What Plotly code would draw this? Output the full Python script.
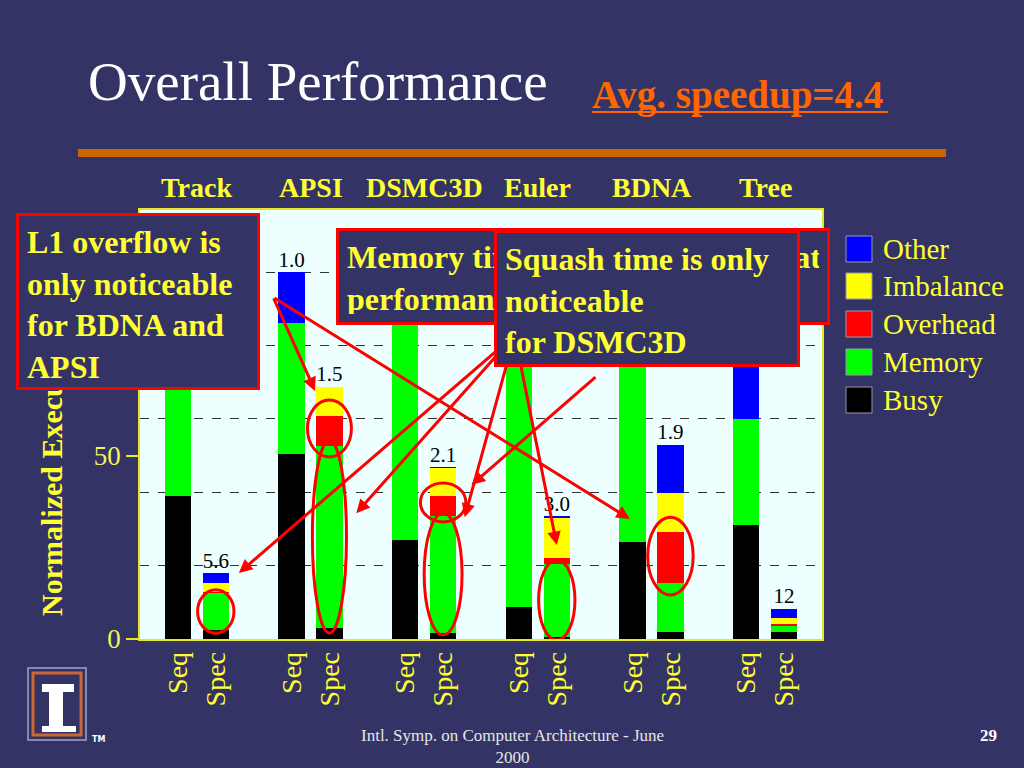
import plotly.graph_objects as go

# ---------------- data ----------------
benchmarks = ["Track", "APSI", "DSMC3D", "Euler", "BDNA", "Tree"]
runs = ["Seq", "Spec"]
components = ["Busy", "Memory", "Overhead", "Imbalance", "Other"]
comp_colors = ["#000000", "#00FF00", "#FF0000", "#FFFF00", "#0000FF"]

# order of bars: Track Seq, Track Spec, APSI Seq, APSI Spec, ...
busy      = [39.0, 2.4, 50.5, 3.0, 27.0, 1.6, 8.7, 0.5, 26.5, 1.9, 31.0, 1.9]
memory    = [61.0, 10.3, 35.5, 49.7, 73.0, 32.0, 91.3, 20.0, 73.5, 13.3, 29.0, 1.9]
overhead  = [0.0, 0.2, 0.0, 8.2, 0.0, 5.4, 0.0, 1.6, 0.0, 13.9, 0.0, 0.2]
imbalance = [0.0, 2.4, 0.0, 7.9, 0.0, 7.6, 0.0, 11.0, 0.0, 10.6, 0.0, 1.6]
other     = [0.0, 2.6, 14.0, 0.0, 0.0, 0.1, 0.0, 0.3, 0.0, 13.3, 40.0, 2.7]
speedup_labels = ["1.0", "5.6", "1.0", "1.5", "1.0", "2.1",
                  "1.0", "3.0", "1.0", "1.9", "1.0", "12"]
avg_speedup = "4.4"

series = [busy, memory, overhead, imbalance, other]

# ---------------- geometry helpers ----------------
W, H = 1024, 768
L, R, T, B = 140, 822, 210, 639          # plot area in pixels
def px(x):  # pixel x -> paper
    return (x - L) / (R - L)
def py(y):  # pixel y -> paper
    return (B - y) / (B - T)

xpos = [3 * i + j for i in range(len(benchmarks)) for j in range(len(runs))]
xlabels = [r for _ in benchmarks for r in runs]
totals = [sum(s[k] for s in series) for k in range(len(xpos))]

SERIF = "Liberation Serif"
YEL = "#FFFF33"
BG = "#333366"
RED = "#FF0000"

fig = go.Figure()
for name, vals, col in zip(components, series, comp_colors):
    fig.add_trace(go.Bar(x=xpos, y=vals, name=name, width=0.69,
                         marker=dict(color=col, line=dict(width=0)),
                         showlegend=False))

fig.add_trace(go.Scatter(x=xpos, y=totals, mode="text", text=speedup_labels,
                         textposition="top center",
                         textfont=dict(family=SERIF, size=21, color="#000000"),
                         showlegend=False, hoverinfo="skip"))

shapes = []
annotations = []

# ---------- ellipses (bar index, y low, y high, half width) ----------
ellipses = [(1, 1.6, 13.4, 0.48), (3, 49.6, 65.1, 0.58), (3, 1.6, 54.2, 0.45),
            (5, 31.9, 42.5, 0.6), (5, 1.1, 34.3, 0.5), (7, -0.3, 21.5, 0.48),
            (9, 12.0, 33.2, 0.6)]
for bi, y0, y1, hw in ellipses:
    xc = xpos[bi]
    shapes.append(dict(type="circle", xref="x", yref="y", x0=xc - hw, x1=xc + hw,
                       y0=y0, y1=y1, line=dict(color=RED, width=3),
                       fillcolor="rgba(0,0,0,0)", layer="above"))

# ---------- title area ----------
shapes.append(dict(type="rect", xref="paper", yref="paper", x0=px(78), x1=px(946),
                   y0=py(157), y1=py(149), fillcolor="#CC6600", line=dict(width=0)))
annotations.append(dict(text="Overall Performance", xref="paper", yref="paper",
                        x=px(86), y=py(82), xanchor="left", yanchor="middle",
                        showarrow=False, font=dict(family=SERIF, size=55, color="white")))
annotations.append(dict(text="<b>Avg. speedup=" + avg_speedup + "</b>", xref="paper", yref="paper",
                        x=px(590), y=py(95), xanchor="left", yanchor="middle",
                        showarrow=False, font=dict(family=SERIF, size=39, color="#FF6600")))
shapes.append(dict(type="line", xref="paper", yref="paper", x0=px(592), x1=px(888),
                   y0=py(112), y1=py(112), line=dict(color="#FF6600", width=2)))

# benchmark names
for i, bname in enumerate(benchmarks):
    annotations.append(dict(text="<b>" + bname + "</b>", xref="x", yref="paper",
                            x=3 * i + 0.5, y=py(188), xanchor="center", yanchor="middle",
                            showarrow=False, font=dict(family=SERIF, size=28, color=YEL)))

# y-axis title
annotations.append(dict(text="<b>Normalized Execution Time</b>", xref="paper", yref="paper",
                        x=px(51), y=py(437), xanchor="center", yanchor="middle",
                        textangle=-90, showarrow=False,
                        font=dict(family=SERIF, size=30, color=YEL)))

# ---------- custom legend ----------
leg_y = [249, 286, 324, 362, 400]
for k, (name, col) in enumerate(zip(components[::-1], comp_colors[::-1])):
    yc = leg_y[k]
    shapes.append(dict(type="rect", xref="paper", yref="paper", x0=px(846), x1=px(872),
                       y0=py(yc + 13), y1=py(yc - 13), fillcolor=col,
                       line=dict(color="#9999AA", width=1)))
    annotations.append(dict(text=name, xref="paper", yref="paper", x=px(881), y=py(yc),
                            xanchor="left", yanchor="middle", showarrow=False,
                            font=dict(family=SERIF, size=29, color=YEL)))

# ---------- callout boxes and arrows ----------
def box(text, x0, y0, x1, y1, size=32):
    bw, pad = 3, 8
    return dict(text=text, xref="paper", yref="paper", x=px(x0), y=py(y0),
                xanchor="left", yanchor="top", align="left", valign="top",
                width=(x1 - x0) - 2 * (bw + pad), height=(y1 - y0) - 2 * (bw + pad),
                bgcolor=BG, bordercolor=RED, borderwidth=bw, borderpad=pad,
                showarrow=False, font=dict(family=SERIF, size=size, color=YEL, weight="bold"))

def arrow(tx, ty, hx, hy):
    return dict(text="", x=hx, y=hy, ax=tx, ay=ty, xref="x", yref="y",
                axref="x", ayref="y", showarrow=True, arrowhead=2, arrowsize=0.9,
                arrowwidth=3, arrowcolor=RED, standoff=0, startstandoff=0)

# Memory box + its arrows (drawn under the squash box)
annotations.append(box("Memory time is the key factor that<br>performance depends on",
                       336, 228, 830, 325))
mem_tail = (8.89, 82.8)
for hx, hy in [(1.61, 18.0), (4.71, 34.3), (7.57, 33.2), (10.0, 25.6)]:
    annotations.append(arrow(mem_tail[0], mem_tail[1], hx, hy))

# Squash box + arrow
annotations.append(box("Squash time is only<br>noticeable<br>for DSMC3D", 494, 230, 800, 367))
annotations.append(arrow(11.06, 71.7, 7.75, 42.0))

# L1 box + arrows
annotations.append(box("L1 overflow is<br>only noticeable<br>for BDNA and<br>APSI", 16, 213, 260, 390))
for hx, hy in [(3.62, 67.6), (11.93, 32.7)]:
    annotations.append(arrow(2.51, 93.2, hx, hy))

# ---------- footer ----------
annotations.append(dict(text="Intl. Symp. on Computer Architecture - June<br>2000",
                        xref="paper", yref="paper", x=px(512), y=py(724),
                        xanchor="center", yanchor="top", showarrow=False,
                        font=dict(family=SERIF, size=17, color="#E6E6E6")))
annotations.append(dict(text="<b>29</b>", xref="paper", yref="paper", x=px(988), y=py(735),
                        xanchor="center", yanchor="middle", showarrow=False,
                        font=dict(family=SERIF, size=17, color="white")))
# logo
shapes.append(dict(type="rect", xref="paper", yref="paper", x0=px(28), x1=px(86),
                   y0=py(740), y1=py(668), fillcolor=BG, line=dict(color="#8888AA", width=2)))
shapes.append(dict(type="rect", xref="paper", yref="paper", x0=px(33), x1=px(81),
                   y0=py(735), y1=py(673), fillcolor=BG, line=dict(color="#CC6633", width=3)))
for x0, x1, y0, y1 in [(42, 74, 684, 692), (49, 63, 692, 726), (42, 76, 726, 732)]:
    shapes.append(dict(type="rect", xref="paper", yref="paper", x0=px(x0), x1=px(x1),
                       y0=py(y1), y1=py(y0), fillcolor="white", line=dict(width=0)))
annotations.append(dict(text="<b>TM</b>", xref="paper", yref="paper", x=px(90), y=py(739),
                        xanchor="left", yanchor="middle", showarrow=False,
                        font=dict(family="DejaVu Sans", size=8, color="white")))

fig.update_layout(
    width=W, height=H,
    margin=dict(l=L, r=W - R, t=T, b=H - B, pad=0),
    paper_bgcolor=BG, plot_bgcolor="#EEFFFF",
    barmode="stack", bargap=0, showlegend=False,
    shapes=shapes, annotations=annotations,
    font=dict(family=SERIF),
)
fig.update_xaxes(range=[-1, 17], tickvals=xpos, ticktext=xlabels, tickangle=-90,
                 tickfont=dict(family=SERIF, size=28, color=YEL), ticks="",
                 showgrid=False, zeroline=False, showline=True, linecolor="#E8E820",
                 linewidth=1.5, mirror=True, fixedrange=True)
fig.update_yaxes(range=[0, 116.9], tickvals=[0, 50, 100], ticks="outside", ticklen=12,
                 tickcolor="#E8E820", tickwidth=1.5,
                 tickfont=dict(family=SERIF, size=27, color="#F2F25A"),
                 showgrid=False, zeroline=False, showline=True, linecolor="#E8E820",
                 linewidth=1.5, mirror=True,
                 minor=dict(tickvals=[20, 40, 60, 80, 100], showgrid=True, griddash="dash",
                            gridcolor="#333333", gridwidth=1, ticks=""))

fig.write_html("out.html", config={"displayModeBar": False},
               post_script="document.body.style.margin='0';document.body.style.background='#333366';")
